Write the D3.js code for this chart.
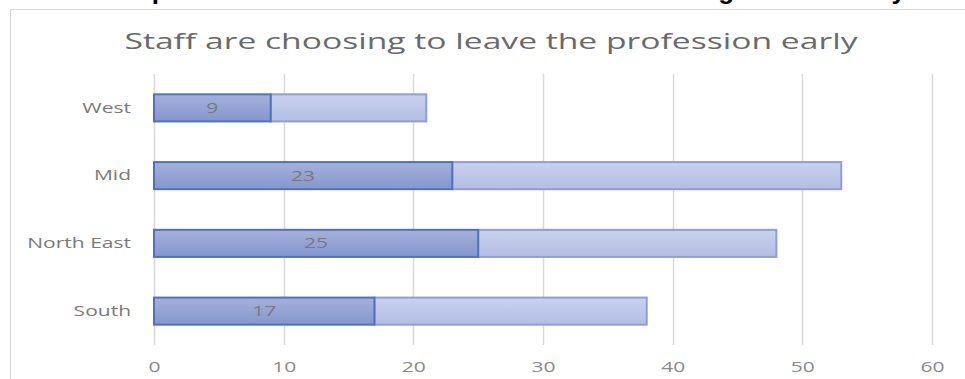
<!DOCTYPE html>
<html>
<head>
<meta charset="utf-8">
<title>Staff leaving early</title>
<script src="https://d3js.org/d3.v7.min.js"></script>
<style>
  body { margin: 0; background: white; }
  svg { display: block; }
</style>
</head>
<body>
<svg id="chart"></svg>
<script>
const regions = ["West", "Mid", "North East", "South"];
const earlyValues = [9, 23, 25, 17];
const restValues = [12, 30, 23, 21];
const xTicks = [0, 10, 20, 30, 40, 50, 60];

const width = 965, height = 379;
const margin = { left: 154, right: 33, top: 74, bottom: 34 };

const svg = d3.select("#chart").attr("width", width).attr("height", height);

const defs = svg.append("defs");
function grad(id, top, bottom) {
  const g = defs.append("linearGradient").attr("id", id)
    .attr("x1", 0).attr("y1", 0).attr("x2", 0).attr("y2", 1);
  g.append("stop").attr("offset", "0%").attr("stop-color", top);
  g.append("stop").attr("offset", "100%").attr("stop-color", bottom);
}
grad("darkFill", "#a6b1da", "#8496ce");
grad("lightFill", "#c9d1ed", "#b3bee3");

// text in the picture is stretched wide, so widen glyphs a bit
function stretch(sel, k) {
  sel.each(function() {
    const w = this.getComputedTextLength();
    d3.select(this).attr("textLength", w * k).attr("lengthAdjust", "spacingAndGlyphs");
  });
}

// heading above the chart, mostly cut off by the crop
svg.append("text")
  .attr("x", 482).attr("y", -1)
  .attr("text-anchor", "middle")
  .attr("font-family", "Liberation Sans, Arial, sans-serif")
  .attr("font-weight", "bold")
  .attr("font-size", "26px")
  .attr("fill", "black")
  .text("that responded and a further 14% to total are choosing to leave early");

// chart frame
svg.append("rect")
  .attr("x", 10.5).attr("y", 9.5)
  .attr("width", 1000).attr("height", 400)
  .attr("fill", "white")
  .attr("stroke", "#d9d9d9");

svg.append("text")
  .attr("x", 491).attr("y", 49)
  .attr("text-anchor", "middle")
  .attr("font-family", "Open Sans, sans-serif")
  .attr("font-size", "21px")
  .attr("fill", "#6a6a6a")
  .attr("textLength", 733)
  .attr("lengthAdjust", "spacingAndGlyphs")
  .text("Staff are choosing to leave the profession early");

const x = d3.scaleLinear().domain([0, 60]).range([margin.left, width - margin.right]);
const y = d3.scaleBand().domain(regions)
  .range([margin.top, height - margin.bottom])
  .paddingInner(0.6).paddingOuter(0.3);

// gridlines
svg.append("g").selectAll("line").data(xTicks).join("line")
  .attr("x1", d => Math.round(x(d)) + 0.5).attr("x2", d => Math.round(x(d)) + 0.5)
  .attr("y1", margin.top).attr("y2", height - margin.bottom)
  .attr("stroke", "#d9d9d9").attr("stroke-width", 1.5);

const xAxis = svg.append("g")
  .attr("transform", `translate(0,${height - margin.bottom})`)
  .call(d3.axisBottom(x).tickValues(xTicks).tickSize(0).tickPadding(16));
xAxis.select(".domain").remove();
xAxis.selectAll("text")
  .attr("font-family", "Open Sans, sans-serif")
  .attr("font-size", "15px")
  .attr("fill", "#8a8a8a")
  .call(stretch, 1.4);

const yAxis = svg.append("g")
  .attr("transform", `translate(${margin.left},0)`)
  .call(d3.axisLeft(y).tickSize(0).tickPadding(23));
yAxis.select(".domain").remove();
yAxis.selectAll("text")
  .attr("font-family", "Open Sans, sans-serif")
  .attr("font-size", "15px")
  .attr("fill", "#7a7a7a")
  .call(stretch, 1.4);

const rows = regions.map((r, i) => ({ region: r, early: earlyValues[i], rest: restValues[i] }));

// lighter remainder segment
svg.append("g").selectAll("rect").data(rows).join("rect")
  .attr("x", d => x(d.early))
  .attr("y", d => y(d.region))
  .attr("width", d => x(d.early + d.rest) - x(d.early))
  .attr("height", y.bandwidth())
  .attr("fill", "url(#lightFill)")
  .attr("stroke", "#8e9fd6")
  .attr("stroke-width", 2);

// darker early-leaving segment
svg.append("g").selectAll("rect").data(rows).join("rect")
  .attr("x", x(0))
  .attr("y", d => y(d.region))
  .attr("width", d => x(d.early) - x(0))
  .attr("height", y.bandwidth())
  .attr("fill", "url(#darkFill)")
  .attr("stroke", "#4f72be")
  .attr("stroke-width", 2);

svg.append("g").selectAll("text").data(rows).join("text")
  .attr("x", d => (x(0) + x(d.early)) / 2)
  .attr("y", d => y(d.region) + y.bandwidth() / 2 + 5)
  .attr("text-anchor", "middle")
  .attr("font-family", "Open Sans, sans-serif")
  .attr("font-size", "15px")
  .attr("fill", "#7a7a7a")
  .text(d => d.early)
  .call(stretch, 1.4);
</script>
</body>
</html>
